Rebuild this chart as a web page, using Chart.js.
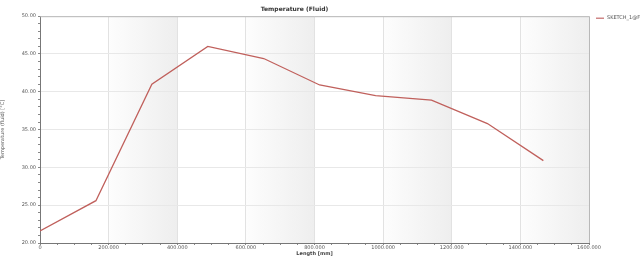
<!DOCTYPE html>
<html>
<head>
<meta charset="utf-8">
<script src="https://cdn.jsdelivr.net/npm/chart.js@4"></script>
<style>
  html, body { margin: 0; padding: 0; background: #fff; }
  #wrap { width: 640px; height: 257px; }
</style>
</head>
<body>
<div id="wrap"><canvas id="chart" width="640" height="257"></canvas></div>
<script>
// data
const lengths = [0, 163, 326, 489, 652, 815, 978, 1141, 1304, 1467];
const temps = [21.6, 25.6, 41.0, 46.0, 44.4, 40.9, 39.5, 38.9, 35.8, 30.9];
const seriesName = "SKETCH_1@Fluid";
const shadedBands = [[200, 400], [600, 800], [1000, 1200], [1400, 1600]];

const fmt3 = v => v === 0 ? "0" : v.toFixed(3);
const fmt2 = v => v.toFixed(2);

// gradient bands behind the grid + frame + legend
const bandsPlugin = {
  id: "bands",
  beforeDraw(chart) {
    const { ctx, chartArea: a, scales: { x } } = chart;
    ctx.save();
    shadedBands.forEach(([s, e]) => {
      const x0 = x.getPixelForValue(s), x1 = x.getPixelForValue(e);
      const g = ctx.createLinearGradient(x0, 0, x1, 0);
      g.addColorStop(0, "rgba(253,253,253,1)");
      g.addColorStop(1, "rgba(238,238,238,1)");
      ctx.fillStyle = g;
      ctx.fillRect(x0, a.top, x1 - x0, a.bottom - a.top);
    });
    ctx.restore();
  },
  afterDraw(chart) {
    const { ctx, chartArea: a } = chart;
    ctx.save();
    ctx.strokeStyle = "#b8b8b8";
    ctx.lineWidth = 1;
    ctx.beginPath();
    ctx.moveTo(a.left, a.top + 0.5);
    ctx.lineTo(a.right + 0.5, a.top + 0.5);
    ctx.lineTo(a.right + 0.5, a.bottom);
    ctx.stroke();
    // legend at the right
    const lx = a.right + 7, ly = a.top + 2;
    ctx.strokeStyle = "#c46a6a";
    ctx.lineWidth = 1.2;
    ctx.beginPath();
    ctx.moveTo(lx, ly);
    ctx.lineTo(lx + 8, ly);
    ctx.stroke();
    ctx.fillStyle = "#555";
    ctx.font = "5px 'DejaVu Sans'";
    ctx.textBaseline = "middle";
    ctx.fillText(seriesName, lx + 11, ly);
    ctx.restore();
  }
};

new Chart(document.getElementById("chart"), {
  type: "line",
  data: {
    datasets: [{
      label: seriesName,
      data: lengths.map((l, i) => ({ x: l, y: temps[i] })),
      borderColor: "#c0605c",
      borderWidth: 1.3,
      pointRadius: 0,
      tension: 0,
      fill: false
    }]
  },
  options: {
    responsive: false,
    animation: false,
    devicePixelRatio: 1,
    layout: { padding: { top: 0, right: 51, left: 0, bottom: 0 } },
    plugins: {
      legend: { display: false },
      tooltip: { enabled: false },
      title: {
        display: true,
        text: "Temperature (Fluid)",
        color: "#333",
        font: { family: "DejaVu Sans", size: 6, weight: "bold" },
        padding: { top: 6, bottom: 3 }
      }
    },
    scales: {
      x: {
        type: "linear",
        min: 0,
        max: 1600,
        ticks: {
          stepSize: 50,
          autoSkip: false,
          maxRotation: 0,
          padding: 0,
          color: "#555",
          font: { family: "DejaVu Sans", size: 5 },
          callback: v => v % 200 === 0 ? fmt3(v) : ""
        },
        grid: {
          color: c => c.tick && c.tick.value % 200 === 0 ? "#e2e2e2" : "rgba(0,0,0,0)",
          tickColor: "#888",
          tickLength: 2,
          drawTicks: true
        },
        border: { color: "#777" },
        title: {
          display: true,
          text: "Length [mm]",
          color: "#444",
          font: { family: "DejaVu Sans", size: 5, weight: "bold" },
          padding: { top: 0, bottom: 0 }
        },
        afterFit: s => { s.height = 14; }
      },
      y: {
        min: 20,
        max: 50,
        ticks: {
          stepSize: 1,
          autoSkip: false,
          padding: 2,
          color: "#555",
          font: { family: "DejaVu Sans", size: 5 },
          callback: v => v % 5 === 0 ? fmt2(v) : ""
        },
        grid: {
          color: c => c.tick && c.tick.value % 5 === 0 ? "#e8e8e8" : "rgba(0,0,0,0)",
          tickColor: "#888",
          tickLength: 2
        },
        border: { color: "#777" },
        title: {
          display: true,
          text: "Temperature (fluid) [°C]",
          color: "#555",
          font: { family: "DejaVu Sans", size: 5 },
          padding: { top: 0, bottom: 4 }
        },
        afterFit: s => { s.width = 40; }
      }
    }
  },
  plugins: [bandsPlugin]
});
</script>
</body>
</html>
